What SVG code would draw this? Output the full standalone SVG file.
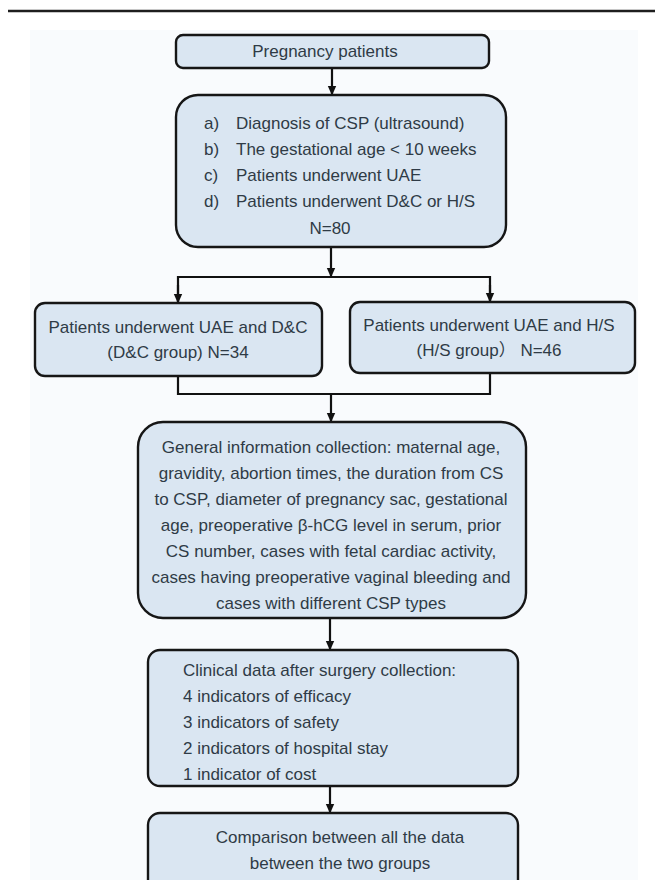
<svg xmlns="http://www.w3.org/2000/svg" width="655" height="880" viewBox="0 0 655 880">
<defs>
<marker id="ah" markerWidth="10" markerHeight="11" refX="9" refY="5" orient="auto" markerUnits="userSpaceOnUse">
<path d="M0,0.8 L9.5,5 L0,9.2 Z" fill="#111"/>
</marker>
<style>
.box{fill:#dae6f2;stroke:#161616;stroke-width:2.4}
.t{font-family:"Liberation Sans","Noto Sans CJK SC",sans-serif;font-size:17px;fill:#2f3b46}
.c{text-anchor:middle}
.ln{fill:none;stroke:#111;stroke-width:2.2}
</style>
</defs>
<rect x="0" y="0" width="655" height="880" fill="#ffffff"/>
<rect x="30" y="30" width="608" height="850" fill="#f9fbfd"/>
<line x1="8" y1="11" x2="655" y2="11" stroke="#1e1e1e" stroke-width="2.5"/>

<g id="connectors">
<line class="ln" x1="332" y1="68" x2="332" y2="95" marker-end="url(#ah)"/>
<line class="ln" x1="331" y1="247" x2="331" y2="277" marker-end="url(#ah)"/>
<polyline class="ln" points="178,302 178,277 490,277 490,301"/>
<line class="ln" x1="178" y1="285" x2="178" y2="303" marker-end="url(#ah)"/>
<line class="ln" x1="490" y1="285" x2="490" y2="302" marker-end="url(#ah)"/>
<polyline class="ln" points="178,376 178,394 490,394 490,373"/>
<line class="ln" x1="331" y1="394" x2="331" y2="422" marker-end="url(#ah)"/>
<line class="ln" x1="330" y1="618" x2="330" y2="650" marker-end="url(#ah)"/>
<line class="ln" x1="330" y1="786" x2="330" y2="813" marker-end="url(#ah)"/>
</g>

<g id="n1">
<rect class="box" x="176" y="35" width="313" height="33" rx="7"/>
<text class="t c" x="325" y="57">Pregnancy patients</text>
</g>

<g id="n2">
<rect class="box" x="176" y="95" width="330" height="152" rx="22"/>
<text class="t" x="204" y="129">a)</text><text class="t" x="236" y="129">Diagnosis of CSP (ultrasound)</text>
<text class="t" x="204" y="155">b)</text><text class="t" x="236" y="155">The gestational age &lt; 10 weeks</text>
<text class="t" x="204" y="181">c)</text><text class="t" x="236" y="181">Patients underwent UAE</text>
<text class="t" x="204" y="207">d)</text><text class="t" x="236" y="207">Patients underwent D&amp;C or H/S</text>
<text class="t c" x="330" y="234">N=80</text>
</g>

<g id="n3">
<rect class="box" x="35" y="303" width="287" height="73" rx="10"/>
<text class="t c" x="178" y="333">Patients underwent UAE and D&amp;C</text>
<text class="t c" x="178" y="358">(D&amp;C group) N=34</text>
</g>

<g id="n4">
<rect class="box" x="350" y="302" width="285" height="71" rx="10"/>
<text class="t c" x="489" y="331">Patients underwent UAE and H/S</text>
<text class="t c" x="489" y="356">(H/S group） N=46</text>
</g>

<g id="n5">
<rect class="box" x="138" y="422" width="388" height="196" rx="25"/>
<text class="t c" x="331" y="453">General information collection: maternal age,</text>
<text class="t c" x="331" y="479">gravidity, abortion times, the duration from CS</text>
<text class="t c" x="331" y="505">to CSP, diameter of pregnancy sac, gestational</text>
<text class="t c" x="331" y="531">age, preoperative β-hCG level in serum, prior</text>
<text class="t c" x="331" y="557">CS number, cases with fetal cardiac activity,</text>
<text class="t c" x="331" y="583">cases having preoperative vaginal bleeding and</text>
<text class="t c" x="331" y="609">cases with different CSP types</text>
</g>

<g id="n6">
<rect class="box" x="148" y="650" width="370" height="136" rx="12"/>
<text class="t" x="183" y="676">Clinical data after surgery collection:</text>
<text class="t" x="183" y="702">4 indicators of efficacy</text>
<text class="t" x="183" y="728">3 indicators of safety</text>
<text class="t" x="183" y="754">2 indicators of hospital stay</text>
<text class="t" x="183" y="780">1 indicator of cost</text>
</g>

<g id="n7">
<rect class="box" x="148" y="813" width="370" height="90" rx="12"/>
<text class="t c" x="340" y="843">Comparison between all the data</text>
<text class="t c" x="340" y="869">between the two groups</text>
</g>
</svg>
